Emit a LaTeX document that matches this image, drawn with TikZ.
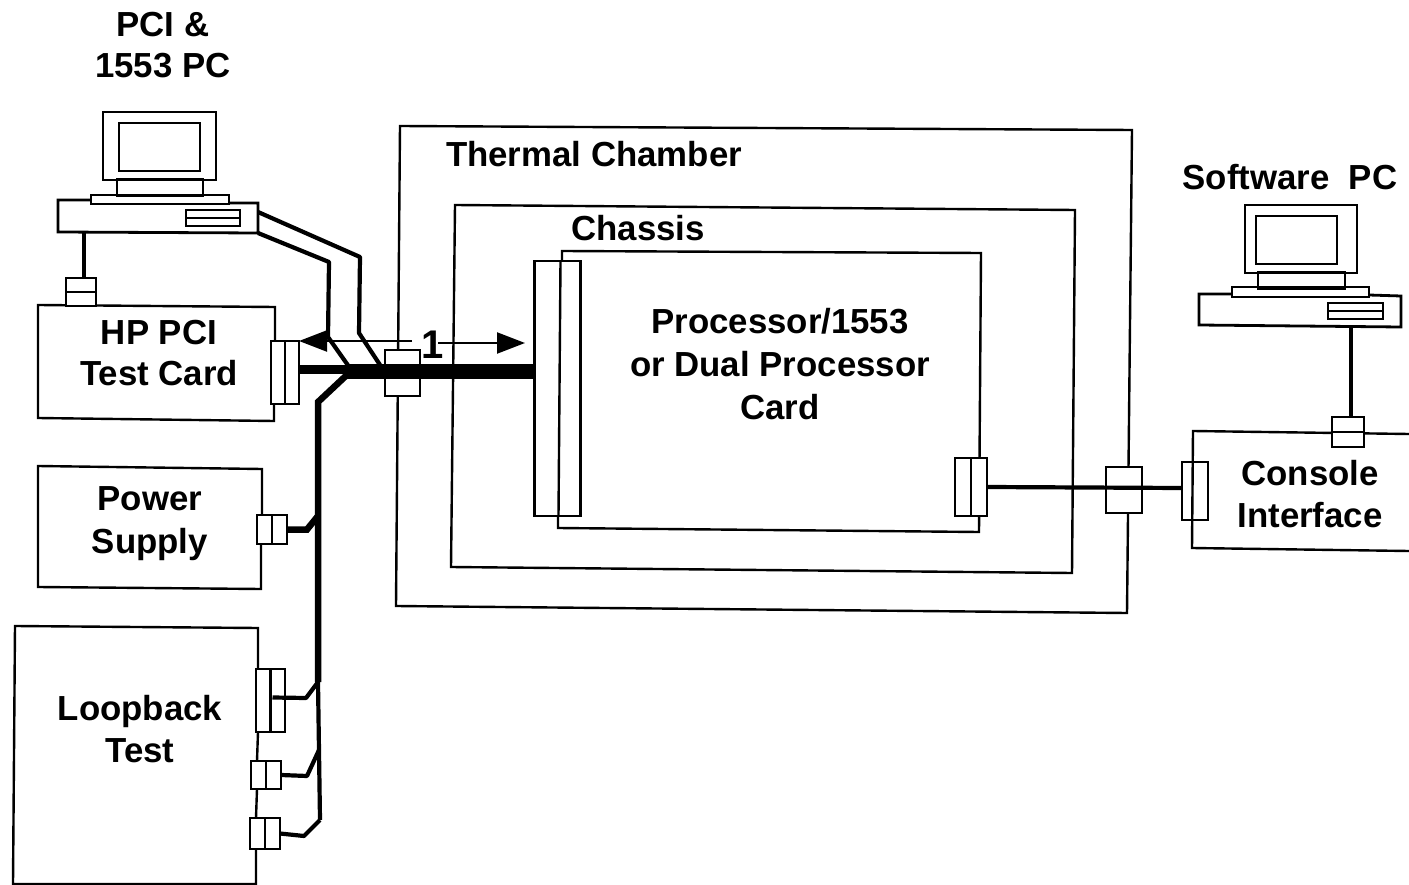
\documentclass[tikz,border=0pt]{standalone}
\usepackage{fontspec}
\setmainfont{Liberation Sans}
\usetikzlibrary{arrows.meta}
\tikzset{
  every node/.style={inner sep=0pt,outer sep=0pt},
  lbl/.style={font=\fontsize{34.8}{40}\selectfont\bfseries,align=center},
  frame/.style={draw=black,line width=2.4pt,line join=miter},
  pcline/.style={draw=black,line width=2.8pt},
  conn/.style={draw=black,line width=2.6pt,fill=white,rectangle},
  connclear/.style={draw=black,line width=2.4pt,rectangle},
  cable/.style={draw=black,line width=4.2pt,line join=round},
  heavy/.style={draw=black,line width=6.5pt,line join=miter},
  bus/.style={draw=black,line width=15pt},
  tip/.style={draw=black,line width=2.2pt,-{Triangle[length=28pt,width=21pt]}}
}
\begin{document}
\begin{tikzpicture}[x=1pt,y=-1pt]
\useasboundingbox (0,0) rectangle (1409,885);
% ---- enclosures
\draw[frame] (400,126) -- (1132,130) -- (1127,613) -- (396,606) -- cycle;
\draw[frame] (455,205) -- (1075,210) -- (1072,573) -- (451,567) -- cycle;
\draw[frame] (562,261) -- (562,251) -- (981,253) -- (979,532) -- (558,528) -- (558,515);
% ---- instrument boxes
\draw[frame] (275,341) -- (275,307) -- (38,305) -- (38,418) -- (274,421) -- (274,404);
\draw[frame] (262,515) -- (262,469) -- (38,466) -- (38,587) -- (261,589) -- (261,544);
\draw[frame] (258,669) -- (258,628) -- (15,626) -- (13,884) -- (256,884) -- (256,849);
\draw[frame] (258,732) -- (257,761);
\draw[frame] (257,789) -- (256,818);
\draw[frame] (1409,434) -- (1193,431) -- (1192,548) -- (1409,551);
% ---- PC left
\draw[pcline] (103,112) rectangle (216,180);
\draw[pcline] (119,123) rectangle (200,171);
\draw[pcline] (117,179) rectangle (203,196);
\draw[pcline] (91,195) rectangle (229,204);
\draw[pcline] (91,200) -- (58,200) -- (58,232) -- (258,233) -- (258,203) -- (229,203);
\draw[pcline] (186,210) rectangle (240,226);
\draw[pcline] (186,218) -- (240,218);
% ---- PC right
\draw[pcline] (1245,205) rectangle (1357,273);
\draw[pcline] (1256,216) rectangle (1337,264);
\draw[pcline] (1258,272) rectangle (1345,289);
\draw[pcline] (1232,287) rectangle (1369,297);
\draw[pcline] (1232,294) -- (1199,294) -- (1199,325) -- (1401,327) -- (1401,296) -- (1369,295);
\draw[pcline] (1328,303) rectangle (1383,319);
\draw[pcline] (1328,311) -- (1383,311);
% ---- connectors
\node[conn,minimum width=30pt,minimum height=28pt] (pcA) at (81,292) {};
\draw[line width=2.4pt] (pcA.west) -- (pcA.east);
\node[conn,minimum width=28pt,minimum height=63pt] (hp) at (285,372.5) {};
\draw[line width=2.4pt] (hp.north) -- (hp.south);
\node[conn,minimum width=35pt,minimum height=46pt] (wall) at (402.5,373) {};
\node[conn,minimum width=46pt,minimum height=255pt] (card) at (557.5,388.5) {};
\draw[line width=2.4pt] (card.north)++(3,0) -- ([xshift=1pt]card.south);
\node[conn,minimum width=30pt,minimum height=29pt] (psu) at (272,529.5) {};
\draw[line width=2.4pt] (psu.north) -- (psu.south);
\node[conn,minimum width=29pt,minimum height=63pt] (lbA) at (270.5,700.5) {};
\draw[line width=2.4pt] (lbA.north) -- (lbA.south);
\node[conn,minimum width=30pt,minimum height=28pt] (lbB) at (266,775) {};
\draw[line width=2.4pt] (lbB.north) -- (lbB.south);
\node[conn,minimum width=30pt,minimum height=31pt] (lbC) at (265,833.5) {};
\draw[line width=2.4pt] (lbC.north) -- (lbC.south);
\node[conn,minimum width=32pt,minimum height=58pt] (proc) at (971,487) {};
\draw[line width=2.4pt] (proc.north) -- (proc.south);
\node[conn,minimum width=36pt,minimum height=46pt] (wallR) at (1124,490) {};
\node[connclear,minimum width=26pt,minimum height=58pt] (cons) at (1195,491) {};
\node[conn,minimum width=32pt,minimum height=30pt] (swA) at (1348,432) {};
\draw[line width=2.4pt] (swA.west) -- (swA.east);
% ---- named cable points
\coordinate (pcA1) at (84,233);
\coordinate (pcB1) at (1351,326);
\coordinate (consIn) at (1182,488);
\coordinate (p1a) at (258,212); \coordinate (p1b) at (360,257); \coordinate (p1c) at (359,333); \coordinate (p1d) at (384,371);
\coordinate (p2a) at (258,233); \coordinate (p2b) at (329,262); \coordinate (p2c) at (328,337); \coordinate (p2d) at (352,371);
\coordinate (j0) at (350,372);
\coordinate (j1) at (318,402);
\coordinate (j2) at (318,682);
\coordinate (j3) at (320,820);
\coordinate (k1) at (306,698);
\coordinate (k2) at (307,776);
\coordinate (k3) at (304,836);
% ---- cables
\draw[cable] (pcA1) -- (pcA1|-pcA.north);
\draw[cable] (pcB1) -- (pcB1|-swA.north);
\draw[cable] (p1a) -- (p1b) -- (p1c) -- (p1d);
\draw[cable] (p2a) -- (p2b) -- (p2c) -- (p2d);
\draw[bus] (345,371.5) -- (card.west|-345,371.5);
\draw[draw=black,line width=9pt] (hp.east|-0,370) -- (j0|-0,370);
\draw[heavy] (j0) -- (j1) -- (j2);
\draw[heavy] (psu.east) -- (307,529.5) -- (318,516);
\draw[cable] (lbA.center)++(2,-3) -- (k1) -- (j2);
\draw[cable] (lbB.east) -- (k2) -- (319,750);
\draw[cable] (lbC.east) -- (k3) -- (j3);
\draw[cable] (j2) -- (j3);
\draw[cable] (proc.east) -- (consIn);
% ---- bidirectional arrow around its label
\node[lbl,font=\fontsize{40}{44}\selectfont\bfseries] (one) at (433,345) {1};
\coordinate (arrL) at (412,341);
\coordinate (arrR) at (438,343);
\draw[tip] (arrL) -- (hp.east|-arrL);
\draw[tip] (arrR) -- (525,343);
% ---- labels
\node[lbl] (tPCI) at (163,45) {PCI \&\\[1pt]1553 PC};
\node[lbl] (tTherm) at (594,154) {Thermal Chamber};
\node[lbl] (tChas) at (638,228) {Chassis};
\node[lbl] (tSoft) at (1290,177) {Software\ \ PC};
\node[lbl] (tHP) at (159,353) {HP PCI\\[1pt]Test Card};
\node[lbl] (tProc) at (780,364) {Processor/1553\\[3pt]or Dual Processor\\[3pt]Card};
\node[lbl] (tCons) at (1310,494) {Console\\[2pt]Interface};
\node[lbl] (tPow) at (150,524) {Power\\[3pt]Supply};
\node[lbl] (tLoop) at (140,729) {Loopback\\[2pt]Test};
\end{tikzpicture}
\end{document}
